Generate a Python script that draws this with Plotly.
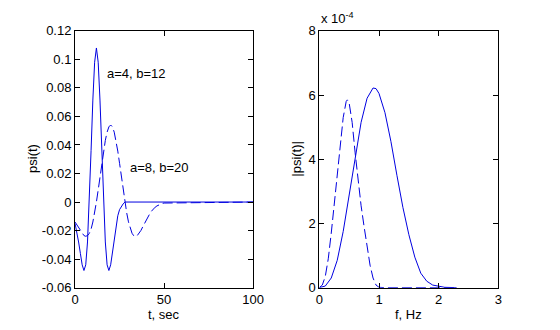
import plotly.graph_objects as go

# --- time-domain wavelets psi(t) ---
t_solid = list(range(0, 29)) + [100]
psi_solid = [-0.015, -0.021, -0.028, -0.036, -0.044, -0.048, -0.044, -0.028, 0.0,
             0.036, 0.0715, 0.098, 0.108, 0.098, 0.0715, 0.036, 0.0, -0.028,
             -0.044, -0.048, -0.044, -0.035, -0.025, -0.016, -0.0096, -0.0053,
             -0.0027, -0.0013, 0.0, 0.0]

t_dash = list(range(0, 51)) + [100]
psi_dash = [-0.014, -0.016, -0.018, -0.020, -0.022, -0.0235, -0.024, -0.0235,
            -0.022, -0.019, -0.014, -0.0075, 0.0, 0.0085, 0.0178, 0.0271, 0.0357,
            0.0432, 0.049, 0.0527, 0.054, 0.0527, 0.049, 0.0432, 0.0357, 0.0271,
            0.0178, 0.0085, 0.0, -0.0076, -0.0139, -0.0187, -0.0219, -0.0237,
            -0.0241, -0.0234, -0.0219, -0.0199, -0.0174, -0.0149, -0.0125,
            -0.0101, -0.0081, -0.0063, -0.0048, -0.0036, -0.0027, -0.0020,
            -0.0014, -0.0010, -0.0007, 0.0]

# --- magnitude spectra |psi|, units of 1e-4 ---
f_solid = [0.0, 0.1, 0.2, 0.3, 0.4, 0.5, 0.6, 0.7, 0.8, 0.9, 0.95, 1.0, 1.1, 1.2,
           1.3, 1.4, 1.5, 1.6, 1.7, 1.8, 1.9, 2.0, 2.1, 2.3]
mag_solid = [0.0, 0.05, 0.3, 0.85, 1.75, 2.9, 4.1, 5.15, 5.9, 6.22, 6.2, 6.05,
             5.45, 4.55, 3.5, 2.5, 1.65, 0.95, 0.45, 0.2, 0.08, 0.04, 0.01, 0.0]

f_dash = [0.0, 0.05, 0.1, 0.15, 0.2, 0.25, 0.3, 0.35, 0.4, 0.45, 0.47, 0.5, 0.55,
          0.6, 0.65, 0.7, 0.75, 0.8, 0.85, 0.9, 0.95, 1.0, 1.1, 2.3]
mag_dash = [0.0, 0.08, 0.35, 0.9, 1.7, 2.6, 3.6, 4.5, 5.3, 5.8, 5.85, 5.75, 5.15,
            4.2, 3.3, 2.55, 1.9, 1.25, 0.7, 0.3, 0.08, 0.01, 0.0, 0.0]

# tick positions / labels
y1_ticks = [-0.06, -0.04, -0.02, 0, 0.02, 0.04, 0.06, 0.08, 0.1, 0.12]
y1_labels = ["-0.06", "-0.04", "-0.02", "0", "0.02", "0.04", "0.06", "0.08", "0.1", "0.12"]
x1_ticks = [0, 50, 100]
x2_ticks = [0, 1, 2, 3]
y2_ticks = [0, 2, 4, 6, 8]

BLUE = "#0000e0"
FONT = dict(family="Liberation Sans, Arial, sans-serif", size=13, color="black")
W, H = 560, 330

fig = go.Figure()
fig.add_trace(go.Scatter(x=t_solid, y=psi_solid, mode="lines",
                         line=dict(color=BLUE, width=1), xaxis="x", yaxis="y"))
fig.add_trace(go.Scatter(x=t_dash, y=psi_dash, mode="lines",
                         line=dict(color=BLUE, width=1, dash="10px,4px"),
                         xaxis="x", yaxis="y"))
fig.add_trace(go.Scatter(x=f_solid, y=mag_solid, mode="lines",
                         line=dict(color=BLUE, width=1), xaxis="x2", yaxis="y2"))
fig.add_trace(go.Scatter(x=f_dash, y=mag_dash, mode="lines",
                         line=dict(color=BLUE, width=1, dash="10px,4px"),
                         xaxis="x2", yaxis="y2"))

def px_x(p):
    return p / W

def px_y(p):
    return 1 - p / H

common = dict(showline=True, linecolor="black", linewidth=1, mirror="ticks",
              ticks="inside", ticklen=5, tickcolor="black", showgrid=False,
              zeroline=False, tickfont=FONT)

fig.update_layout(
    width=W, height=H, margin=dict(l=0, r=0, t=0, b=0),
    paper_bgcolor="white", plot_bgcolor="white", showlegend=False, font=FONT,
    xaxis=dict(domain=[px_x(73), px_x(256)], range=[0, 100], tickvals=x1_ticks,
               anchor="y", **common),
    yaxis=dict(domain=[px_y(294), px_y(25)], range=[-0.06, 0.12],
               tickvals=y1_ticks, ticktext=y1_labels, anchor="x", **common),
    xaxis2=dict(domain=[px_x(324), px_x(508)], range=[0, 3], tickvals=x2_ticks,
                anchor="y2", **common),
    yaxis2=dict(domain=[px_y(294), px_y(25)], range=[0, 8], tickvals=y2_ticks,
                anchor="x2", **common),
)

ann = [
    dict(x=17, y=0.09, xref="x", yref="y", text="a=4, b=12", xanchor="left",
         yanchor="middle", showarrow=False),
    dict(x=30, y=0.024, xref="x", yref="y", text="a=8, b=20", xanchor="left",
         yanchor="middle", showarrow=False),
    dict(x=px_x(164), y=px_y(322), xref="paper", yref="paper", text="t, sec",
         showarrow=False, xanchor="center", yanchor="middle"),
    dict(x=px_x(416), y=px_y(322), xref="paper", yref="paper", text="f, Hz",
         showarrow=False, xanchor="center", yanchor="middle"),
    dict(x=px_x(30), y=px_y(159), xref="paper", yref="paper", text="psi(t)",
         textangle=-90, showarrow=False, xanchor="center", yanchor="middle"),
    dict(x=px_x(301), y=px_y(159), xref="paper", yref="paper", text="|psi(t)|",
         textangle=-90, showarrow=False, xanchor="center", yanchor="middle"),
    dict(x=px_x(324), y=px_y(12), xref="paper", yref="paper",
         text="x 10<sup>-4</sup>", showarrow=False, xanchor="left", yanchor="middle"),
]
fig.update_layout(annotations=ann)

fig.write_html("out.html")
